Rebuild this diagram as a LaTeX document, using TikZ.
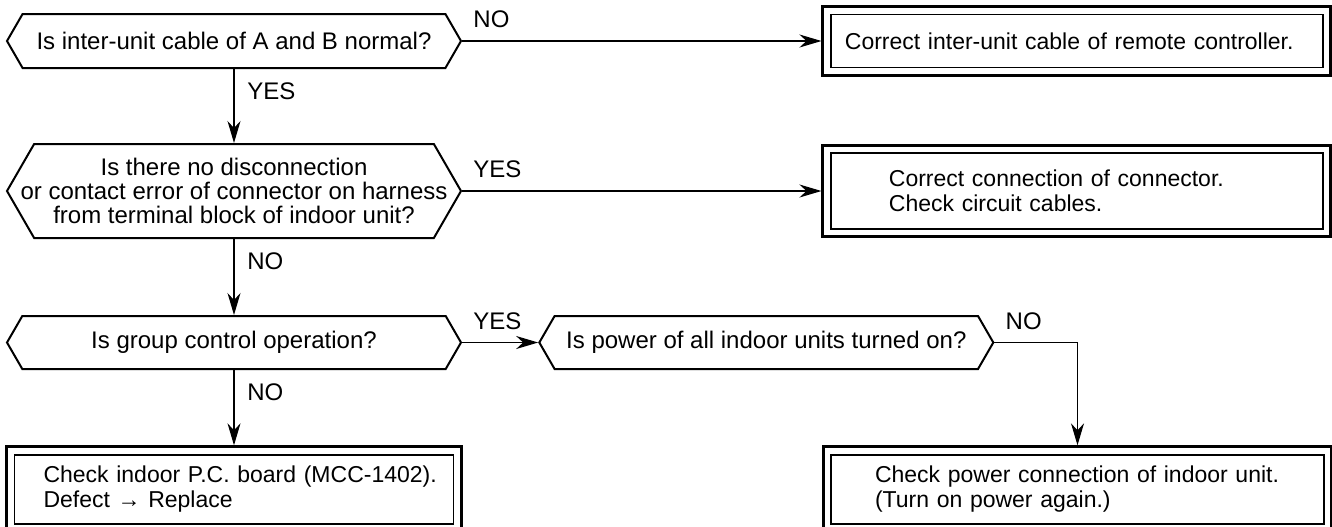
\documentclass[tikz,border=0pt]{standalone}
\usepackage{fontspec}
\setmainfont{Liberation Sans}
\usetikzlibrary{positioning,arrows.meta,shapes.symbols,fit}

\begin{document}
\begin{tikzpicture}[
        x=0.5pt, y=-0.5pt,
        font=\fontsize{12pt}{12pt}\selectfont,
        query/.style={signal, signal to=west and east, signal pointer angle=120, draw, line width=1pt, minimum width=227pt, align=center, inner sep=0pt},
        textin/.style={execute at begin node={\leftskip=#1}},
        answer/.style={rectangle, draw, line width=0.75pt, align=left, inner sep=0pt, font=\fontsize{11.5pt}{12.5pt}\selectfont},
        frame/.style={rectangle, draw, line width=1.5pt, inner sep=3.6pt},
        arr/.style={-{Stealth[length=11pt, width=6.5pt, inset=3.5pt]}, line width=0.6pt},
        lbl/.style={font=\fontsize{12pt}{12pt}\selectfont},
    ]
    \useasboundingbox (0,0) rectangle (1332,526);

    % === Questions ===
    \node[query, minimum height=27pt] (q1) at (234,41) {Is inter-unit cable of A and B normal?};
    \node[query, minimum height=47pt, inner xsep=-9pt, below=37pt of q1] (q2) {Is there no disconnection\\or contact error of connector on harness\\from terminal block of indoor unit?};
    \node[query, minimum height=26.5pt, below=38pt of q2] (q3) {Is group control operation?};
    \node[query, minimum height=26.5pt, right=38pt of q3] (q4) {Is power of all indoor units turned on?};

    % === Results ===
    \node[answer, text width=246pt, minimum height=26.5pt, textin=7pt, right=184pt of q1] (a1in) {Correct inter-unit cable of remote controller.};
    \node[answer, text width=246pt, minimum height=38pt, textin=29pt, right=184pt of q2] (a2in) {Correct connection of connector.\\Check circuit cables.};
    \node[answer, text width=219.5pt, minimum height=34.5pt, textin=14.5pt, below=42pt of q3] (a3in) {Check indoor P.C. board (MCC-1402).\\Defect → Replace};
    \node[answer, text width=246.5pt, minimum height=34.5pt, textin=22pt, right=188pt of a3in] (a4in) {Check power connection of indoor unit.\\(Turn on power again.)};

    \node[frame, fit=(a1in)] (a1) {};
    \node[frame, fit=(a2in)] (a2) {};
    \node[frame, fit=(a3in)] (a3) {};
    \node[frame, fit=(a4in)] (a4) {};

    % === Connectors ===
    \draw[arr] (q1.east) -- node[lbl, above right=3pt and 2pt, pos=0] {NO} (a1.west);
    \draw[arr] (q1.south) -- node[lbl, below right=3pt and 3pt, pos=0] {YES} (q2.north);
    \draw[arr] (q2.east) -- node[lbl, above right=3pt and 2pt, pos=0] {YES} (a2.west);
    \draw[arr] (q2.south) -- node[lbl, below right=3pt and 3pt, pos=0] {NO} (q3.north);
    \draw[arr] (q3.east) -- node[lbl, above right=3pt and 2pt, pos=0] {YES} (q4.west);
    \draw[arr] (q3.south) -- node[lbl, below right=3pt and 3pt, pos=0] {NO} (a3.north);
    \draw[arr] (q4.east) -| node[lbl, above right=3pt and 2pt, pos=0] {NO} (a4.north);

\end{tikzpicture}
\end{document}
